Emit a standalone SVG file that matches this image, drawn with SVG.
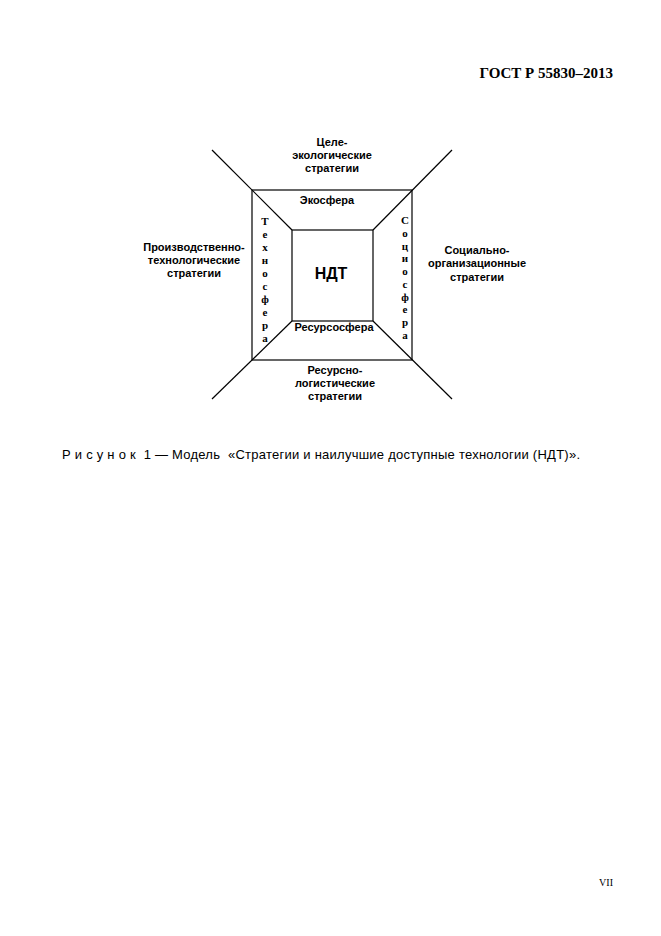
<svg xmlns="http://www.w3.org/2000/svg" width="661" height="936" viewBox="0 0 661 936">
<style>
.s{font-family:"Liberation Sans",Arial,sans-serif;font-weight:bold;font-size:11px;fill:#000;text-anchor:middle}
.v{font-family:"Liberation Serif","Times New Roman",serif;font-weight:bold;font-size:11px;fill:#000;text-anchor:middle}
.ln{stroke:#000;stroke-width:1.2;fill:none}
</style>
<rect width="661" height="936" fill="#fff"/>
<text x="613" y="78" font-family="Liberation Serif,serif" font-weight="bold" font-size="15" text-anchor="end">ГОСТ Р 55830–2013</text>
<g id="connectors">
<line class="ln" x1="212" y1="150" x2="292" y2="230"/>
<line class="ln" x1="452" y1="150" x2="373" y2="230"/>
<line class="ln" x1="212" y1="399" x2="292" y2="321"/>
<line class="ln" x1="452" y1="399" x2="373" y2="321"/>
</g>
<g id="outer"><rect class="ln" x="252" y="190" width="160" height="170"/></g>
<g id="ndt"><rect class="ln" x="292" y="230" width="81" height="91"/>
<text class="s" x="331" y="279" style="font-size:16px">НДТ</text></g>
<g id="ekosfera"><text class="s" x="327" y="204">Экосфера</text></g>
<g id="resursosfera"><text class="s" x="334" y="331">Ресурсосфера</text></g>
<g id="tehnosfera">
<text class="v" x="265" y="225">Т</text><text class="v" x="265" y="238">е</text><text class="v" x="265" y="251">х</text><text class="v" x="265" y="264">н</text><text class="v" x="265" y="277">о</text><text class="v" x="265" y="290">с</text><text class="v" x="265" y="303">ф</text><text class="v" x="265" y="316">е</text><text class="v" x="265" y="329">р</text><text class="v" x="265" y="342">а</text>
</g>
<g id="sotsiosfera">
<text class="v" x="405" y="224">С</text><text class="v" x="405" y="237">о</text><text class="v" x="405" y="250">ц</text><text class="v" x="405" y="262">и</text><text class="v" x="405" y="275">о</text><text class="v" x="405" y="288">с</text><text class="v" x="405" y="301">ф</text><text class="v" x="405" y="313">е</text><text class="v" x="405" y="326">р</text><text class="v" x="405" y="339">а</text>
</g>
<g id="top"><text class="s" x="332" y="146">Целе-</text><text class="s" x="332" y="159">экологические</text><text class="s" x="332" y="172">стратегии</text></g>
<g id="bottom"><text class="s" x="335" y="374">Ресурсно-</text><text class="s" x="335" y="387">логистические</text><text class="s" x="335" y="400">стратегии</text></g>
<g id="left"><text class="s" x="194" y="251">Производственно-</text><text class="s" x="194" y="264">технологические</text><text class="s" x="194" y="277">стратегии</text></g>
<g id="right"><text class="s" x="477" y="254">Социально-</text><text class="s" x="477" y="267">организационные</text><text class="s" x="477" y="281">стратегии</text></g>
<text x="62" y="459" font-family="Liberation Sans,Arial,sans-serif" font-size="13" textLength="518" lengthAdjust="spacing" xml:space="preserve">Р и с у н о к  1 — Модель  «Стратегии и наилучшие доступные технологии (НДТ)».</text>
<text x="613" y="886" font-family="Liberation Serif,serif" font-size="10" text-anchor="end">VII</text>
</svg>
